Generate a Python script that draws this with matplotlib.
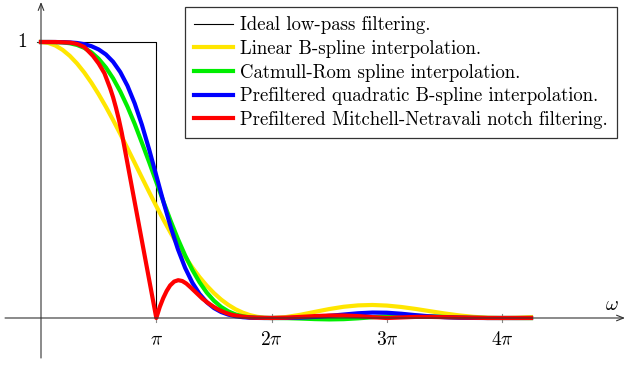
import matplotlib
matplotlib.use("Agg")
import matplotlib.pyplot as plt

plt.rcParams['font.family'] = ['cmr10', 'DejaVu Serif']
plt.rcParams['mathtext.fontset'] = 'cm'
plt.rcParams['axes.unicode_minus'] = False

# frequency in units of pi
omega = [0, .0625, .125, .1875, .25, .3125, .375, .4375, .5, .5625, .625, .6875,
         .75, .8125, .875, .9375, 1, 1.0625, 1.125, 1.1875, 1.25, 1.3125, 1.375,
         1.4375, 1.5, 1.5625, 1.625, 1.6875, 1.75, 1.8125, 1.875, 1.9375, 2,
         2.125, 2.25, 2.375, 2.5, 2.625, 2.75, 2.875, 3, 3.125, 3.25, 3.375, 3.5,
         3.625, 3.75, 3.875, 4, 4.125, 4.25]

linear = [1, .9968, .9872, .9714, .9497, .9222, .8896, .8522, .8106, .7654, .7173,
          .6669, .6150, .5622, .5092, .4567, .4053, .3556, .3080, .2632, .2214,
          .1830, .1482, .1172, .0901, .0668, .0474, .0316, .0194, .0104, .0044,
          .0010, 0, .0034, .0117, .0222, .0324, .0407, .0457, .0472, .0450, .0399,
          .0328, .0246, .0165, .0095, .0042, .0010, 0, .0009, .0033]

catmull_rom = [1, 1.0, .9997, .9985, .9954, .9893, .9788, .9623, .9390, .9079,
               .8685, .8209, .7655, .7035, .6350, .5652, .4928, .4208, .3514,
               .2862, .2268, .1743, .1293, .0921, .0626, .0401, .0239, .0129,
               .0061, .0024, .0006, .0001, 0, -.0004, -.0019, -.0040, -.0051,
               -.0042, -.0012, .0027, .0061, .0079, .0078, .0061, .0038, .0018,
               .0006, .0001, 0, -.0001, -.0003]

quadratic = [1, 1.0, .9999, .9995, .9985, .9964, .9921, .9848, .9730, .9550,
             .9284, .8912, .8413, .7776, .7001, .6114, .5160, .4200, .3294,
             .2491, .1817, .1281, .0872, .0572, .0360, .0216, .0122, .0063,
             .0029, .0011, .0003, 0, 0, .0002, .0014, .0039, .0078, .0125, .0171,
             .0197, .0191, .0154, .0103, .0059, .0028, .0011, .0003, 0, 0, 0, .0002]

# the notch filter has a sharper shape, read on its own finer grid
mitchell_omega = [0, .125, .25, .3125, .375, .45, .5, .55, .6, .625, .65, .675,
                  .7, .725, .75, .8125, .875, .9375, 1, 1.03, 1.06, 1.09, 1.12,
                  1.155, 1.19, 1.225, 1.26, 1.3, 1.35, 1.4, 1.45, 1.5, 1.55, 1.6,
                  1.65, 1.7, 1.75, 1.8125, 1.875, 2, 2.125, 2.25, 2.375, 2.5,
                  2.625, 2.75, 2.875, 3, 3.125, 3.25, 3.375, 3.5, 3.625, 3.75,
                  3.875, 4, 4.25]
mitchell = [1, 1, .998, .993, .982, .95, .922, .887, .832, .80, .762, .72, .672,
            .616, .56, .42, .28, .14, 0, .04, .072, .098, .118, .132, .137, .134,
            .125, .11, .09, .07, .054, .04, .028, .019, .012, .008, .005, .002,
            .001, 0, .001, .004, .007, .009, .009, .007, .003, 0, .002, .004,
            .004, .003, .002, .001, 0, 0, 0]

ideal_x = [0, 1, 1]
ideal_y = [1, 1, 0]

labels = ['Ideal low-pass filtering.',
          'Linear B-spline interpolation.',
          'Catmull-Rom spline interpolation.',
          'Prefiltered quadratic B-spline interpolation.',
          'Prefiltered Mitchell-Netravali notch filtering.']
xtick_pos = [1, 2, 3, 4]
xtick_labels = [r'$\pi$', r'$2\pi$', r'$3\pi$', r'$4\pi$']

fig = plt.figure(figsize=(6.27, 3.65), dpi=100)
ax = fig.add_axes([0, 0, 1, 1])
ax.set_xlim(-0.3556, 5.0824)
ax.set_ylim(-0.1703, 1.1522)
ax.axis('off')

# axes with arrows
axis_col = '#333333'
ax.annotate('', xy=(5.065, 0), xytext=(-0.312, 0),
            arrowprops=dict(arrowstyle='->,head_length=0.5,head_width=0.2',
                            color=axis_col, lw=0.8, shrinkA=0, shrinkB=0))
ax.annotate('', xy=(0, 1.145), xytext=(0, -0.145),
            arrowprops=dict(arrowstyle='->,head_length=0.5,head_width=0.2',
                            color=axis_col, lw=0.8, shrinkA=0, shrinkB=0))

for xt, lab in zip(xtick_pos, xtick_labels):
    ax.plot([xt, xt], [-0.0145, 0.0145], color='#888888', lw=0.8)
    ax.text(xt, -0.08, lab, ha='center', va='center', fontsize=14)
ax.plot([-0.035, 0.035], [1, 1], color=axis_col, lw=0.8)
ax.text(-0.165, 1.0, '1', ha='center', va='center', fontsize=14)
ax.text(4.952, 0.047, r'$\omega$', ha='center', va='center', fontsize=14)

lines = []
lines += ax.plot(ideal_x, ideal_y, color='black', lw=0.8)
lines += ax.plot(omega, linear, color='#ffe600', lw=3, solid_joinstyle='round')
lines += ax.plot(omega, catmull_rom, color='#00ee00', lw=3, solid_joinstyle='round')
lines += ax.plot(omega, quadratic, color='#0000ff', lw=3, solid_joinstyle='round')
lines += ax.plot(mitchell_omega, mitchell, color='#ff0000', lw=3,
                 solid_joinstyle='round')

leg = ax.legend(lines, labels, loc='upper right',
                bbox_to_anchor=(617 / 627, 1 - 7 / 365),
                bbox_transform=fig.transFigure, borderaxespad=0,
                fontsize=13.5, fancybox=False, framealpha=1,
                edgecolor='#333333', handlelength=2.1, handletextpad=0.36,
                labelspacing=0.30, borderpad=0.5)
leg.get_frame().set_linewidth(0.9)

fig.savefig('out.png', dpi=100)
